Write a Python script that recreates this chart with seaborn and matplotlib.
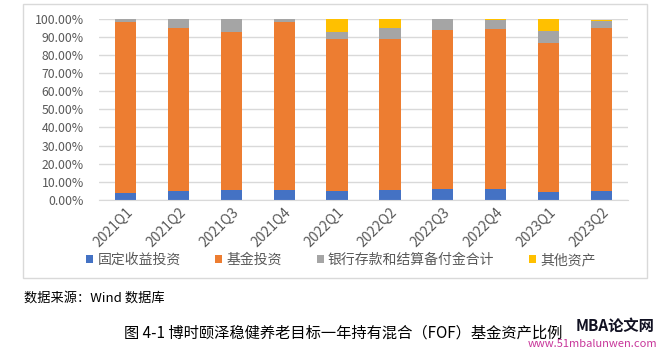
import matplotlib
matplotlib.use('Agg')
import matplotlib.pyplot as plt
import seaborn as sns
import pandas as pd
import numpy as np
from matplotlib.patches import Patch, Rectangle
from matplotlib.ticker import PercentFormatter

# ========================================
# 数据（按图读取的估计值，单位：%）
# ========================================
quarters = ['2021Q1', '2021Q2', '2021Q3', '2021Q4', '2022Q1',
            '2022Q2', '2022Q3', '2022Q4', '2023Q1', '2023Q2']
fixed_income = [4.0, 5.0, 5.7, 5.7, 5.1, 5.7, 6.2, 6.2, 4.6, 5.1]
fund_invest = [94.1, 90.0, 87.0, 92.2, 83.8, 83.0, 87.6, 88.0, 81.9, 89.8]
bank_deposit = [1.7, 4.8, 7.0, 1.8, 3.8, 5.9, 6.2, 4.8, 6.6, 3.9]
other_assets = [0.2, 0.2, 0.3, 0.3, 7.3, 5.4, 0.0, 1.0, 6.9, 0.6]

series_names = ['固定收益投资', '基金投资', '银行存款和结算备付金合计', '其他资产']
colors = ['#4472C4', '#ED7D31', '#A5A5A5', '#FFC000']

source_text = '数据来源：Wind 数据库'
caption_text = '图 4-1 博时颐泽稳健养老目标一年持有混合（FOF）基金资产比例'

# ========================================
# 样式
# ========================================
sns.set_style('white')
plt.rcParams['font.family'] = ['Noto Sans CJK SC', 'DejaVu Sans']

df = pd.DataFrame({
    'quarter': quarters,
    series_names[0]: fixed_income,
    series_names[1]: fund_invest,
    series_names[2]: bank_deposit,
    series_names[3]: other_assets,
})
# 堆叠：累计值，从最高层往下画
cum = df[series_names].cumsum(axis=1) / 100.0

fig = plt.figure(figsize=(6.61, 3.52), dpi=100)
fig.patch.set_facecolor('white')
ax = fig.add_axes([99 / 661, 1 - 200 / 352, 529 / 661, 181.5 / 352])

for name, color in reversed(list(zip(series_names, colors))):
    sns.barplot(x=df['quarter'], y=cum[name], color=color, saturation=1,
                width=0.4, linewidth=0, ax=ax)

ax.set_ylim(0, 1)
ax.set_xlim(-0.5, len(quarters) - 0.5)
ax.set_yticks(np.arange(0, 1.01, 0.1))
ax.yaxis.set_major_formatter(PercentFormatter(1.0, decimals=2))
ax.set_axisbelow(True)
ax.yaxis.grid(True, color='#D9D9D9', linewidth=1)
ax.set_xlabel('')
ax.set_ylabel('')
for s in ['top', 'right', 'left']:
    ax.spines[s].set_visible(False)
ax.spines['bottom'].set_color('#D9D9D9')
ax.tick_params(axis='both', length=0, colors='#595959')
ax.tick_params(axis='y', pad=11, labelsize=8.8)
ax.tick_params(axis='x', pad=4, labelsize=10)
plt.setp(ax.get_xticklabels(), rotation=45, ha='right', rotation_mode='anchor')

# 图例
handles = [Patch(facecolor=c, edgecolor='none') for c in colors]
fig.legend(handles, series_names, loc='center', ncol=4, frameon=False,
           bbox_to_anchor=(341 / 661, 1 - 260 / 352), fontsize=10,
           handlelength=0.5, handleheight=0.5, handletextpad=0.3,
           columnspacing=2.5, labelcolor='#595959')

# 图表外框
fig.patches.append(Rectangle((23 / 661, 1 - 278 / 352), 624 / 661, 274 / 352,
                             transform=fig.transFigure, fill=False,
                             edgecolor='#D9D9D9', linewidth=1))

# 文字说明
fig.text(24 / 661, 1 - 298 / 352, source_text, fontsize=9.5, va='center', color='black')
fig.text(124 / 661, 1 - 333 / 352, caption_text, fontsize=11, va='center', color='black')
fig.text(576 / 661, 1 - 326 / 352, 'MBA论文网', fontsize=11, fontweight='bold',
         style='italic', va='center', color='#111122')
fig.text(528 / 661, 1 - 344 / 352, 'www.51mbalunwen.com', fontsize=8,
         style='italic', va='center', color='#C8369A')

fig.savefig('out.png', dpi=100)
